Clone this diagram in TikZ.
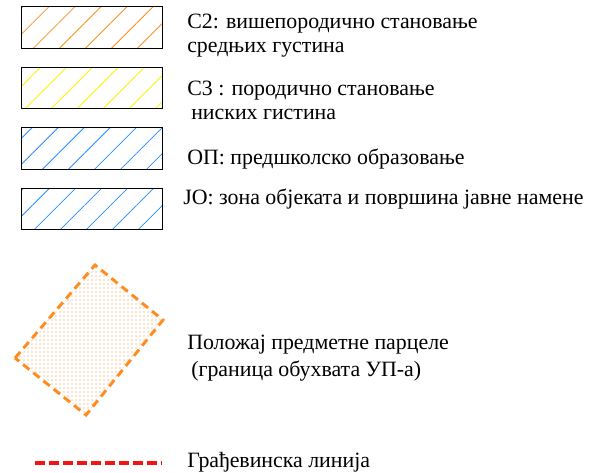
\documentclass[tikz,border=0pt]{standalone}
\usepackage{fontspec}
\setmainfont{Liberation Serif}
\usetikzlibrary{patterns,patterns.meta}

\definecolor{zoneorange}{RGB}{255,140,30}
\definecolor{zoneyellow}{RGB}{255,240,0}
\definecolor{zoneblue}{RGB}{40,140,255}
\definecolor{linered}{RGB}{240,20,20}

\tikzset{
  legbox/.style={draw=black, line width=0.65pt},
  hatch/.style={pattern={Lines[angle=45,distance=13.8pt,line width=0.6pt]}, pattern color=#1},
  lbl/.style={anchor=base west, inner sep=0pt, align=left, font=\fontsize{16.4}{18}\selectfont},
  parcel/.style={draw=zoneorange, line width=2.2pt, dash pattern=on 6pt off 3.8pt, pattern={Dots[distance=3pt,radius=0.55pt]}, pattern color=zoneorange},
  buildline/.style={draw=linered, line width=2.8pt, dash pattern=on 7.5pt off 3pt}
}

\begin{document}
\begin{tikzpicture}[x=0.75pt,y=0.75pt]
    \useasboundingbox (0,0) rectangle (604,-472);

    % zone boxes
    \draw[legbox, hatch=zoneorange] (21,-6) rectangle (162,-48);
    \draw[legbox, hatch=zoneyellow] (21,-67) rectangle (162,-108);
    \draw[legbox, hatch=zoneblue] (21,-127) rectangle (162,-169);
    \draw[legbox, hatch=zoneblue] (21,-188) rectangle (162,-229);

    \node[lbl] (c2text) at (187,-52) {С2: вишепородично становање\\средњих густина};
    \node[lbl] (c3text) at (187,-119) {С3 : породично становање\\\hspace{3pt}ниских гистина};
    \node[lbl] (optext) at (187,-164) {ОП: предшколско образовање};
    \node[lbl] (jotext) at (183,-204) {ЈО: зона објеката и површина јавне намене};

    % parcel
    \coordinate (pl) at (15,-358);
    \coordinate (pt) at (95,-265);
    \coordinate (pr) at (163,-320);
    \coordinate (pb) at (86,-415);
    \draw[parcel] (pl) -- (pt) -- (pr) -- (pb) -- cycle;
    \node[lbl, font=\fontsize{16.4}{20}\selectfont] (parceltext) at (187,-376) {Положај предметне парцеле\\\hspace{3pt}(граница обухвата УП-а)};

    % building line
    \coordinate (bl1) at (35,-463);
    \coordinate (bl2) at (162,-463);
    \draw[buildline] (bl1) -- (bl2);
    \node[lbl] (bltext) at (187,-467) {Грађевинска линија};
\end{tikzpicture}
\end{document}
